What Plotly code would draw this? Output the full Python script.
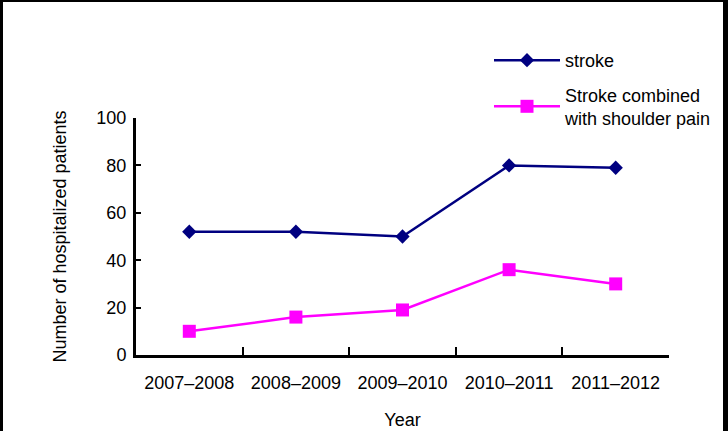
import plotly.graph_objects as go

years = ["2007–2008", "2008–2009", "2009–2010", "2010–2011", "2011–2012"]
stroke = [52, 52, 50, 80, 79]
stroke_shoulder = [10, 16, 19, 36, 30]
y_ticks = [0, 20, 40, 60, 80, 100]

W, H = 728, 431
L, R, T, B = 136, 59, 118, 76
pw, ph = W - L - R, H - T - B

def px(x):
    return (x - L) / pw

def py(y):
    return (H - B - y) / ph

fig = go.Figure()
fig.add_trace(go.Scatter(
    x=years, y=stroke, mode="lines+markers", name="stroke", legendgroup="a",
    line=dict(color="#000080", width=2.5),
    marker=dict(symbol="diamond", size=11, color="#000080"),
))
fig.add_trace(go.Scatter(
    x=years, y=stroke_shoulder, mode="lines+markers", legendgroup="b",
    name="Stroke combined<br>with shoulder pain",
    line=dict(color="#ff00ff", width=2.5),
    marker=dict(symbol="square", size=13, color="#ff00ff"),
))

font = dict(family="Liberation Sans, Arial, sans-serif", size=18, color="black")

fig.update_layout(
    width=W, height=H,
    margin=dict(l=L, r=R, t=T, b=B, autoexpand=False),
    paper_bgcolor="white", plot_bgcolor="white",
    font=font,
    showlegend=True,
    legend=dict(x=px(489), y=py(42), xanchor="left", yanchor="top",
                bgcolor="rgba(0,0,0,0)", font=font, itemwidth=66,
                tracegroupgap=8),
    xaxis=dict(
        type="category", range=[-0.5, 4.5], showline=True, linecolor="black",
        linewidth=3, ticks="inside", tickson="boundaries", ticklen=8,
        tickwidth=2, tickcolor="black", showgrid=False, zeroline=False,
        automargin=False, ticklabelstandoff=9,
        title=dict(text="Year", standoff=22, font=font),
    ),
    yaxis=dict(
        range=[0, 100], tickvals=y_ticks, showline=True, linecolor="black",
        linewidth=3, ticks="inside", ticklen=5, tickwidth=2,
        tickcolor="black", showgrid=False, zeroline=False,
        automargin=False, ticklabelstandoff=3,
        title=dict(text="Number of hospitalized patients", standoff=26, font=font),
    ),
    shapes=[
        dict(type="line", xref="paper", yref="paper", x0=px(1.5), x1=px(1.5),
             y0=py(0), y1=py(H), line=dict(color="black", width=3)),
        dict(type="line", xref="paper", yref="paper", x0=px(725.5), x1=px(725.5),
             y0=py(0), y1=py(H), line=dict(color="black", width=5)),
        dict(type="line", xref="paper", yref="paper", x0=px(0), x1=px(W),
             y0=py(1), y1=py(1), line=dict(color="black", width=2)),
    ],
)

fig.write_html(
    "out.html",
    config={"displayModeBar": False},
    post_script="document.body.style.margin='0';document.body.style.overflow='hidden';",
)
